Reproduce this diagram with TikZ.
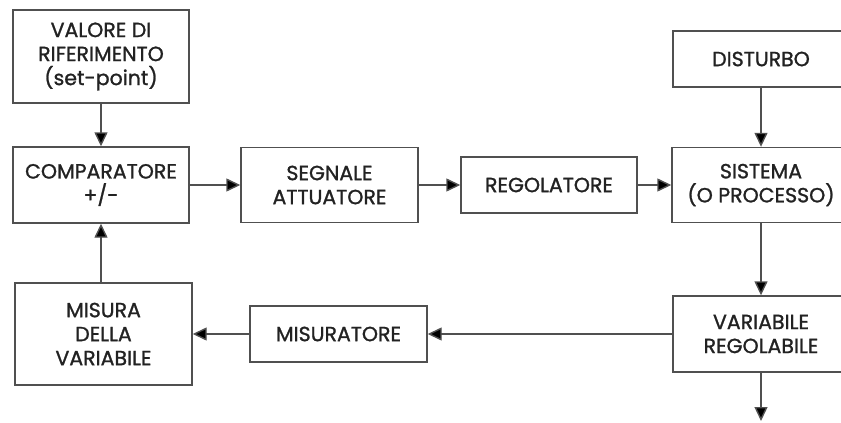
\documentclass[tikz,border=0pt]{standalone}
\usepackage{fontspec}
\setmainfont{Poppins}[FakeBold=1.2]
\usetikzlibrary{arrows.meta}
\definecolor{linec}{HTML}{505050}
\definecolor{textc}{HTML}{222222}
\tikzset{
  blk/.style={draw=linec, line width=1.4pt, fill=white, align=center, text=textc,
    font=\fontsize{20.5}{24}\selectfont, inner sep=0pt},
  conn/.style={draw=linec, line width=1.4pt, -{Triangle[length=14pt,width=13pt,fill=black]}},
}
\begin{document}
\begin{tikzpicture}[x=1pt,y=-1pt]
\useasboundingbox (0,0) rectangle (841,423);
\clip (0,0) rectangle (841,423);
\fill[white] (0,0) rectangle (841,423);
\node[blk, minimum width=176pt, minimum height=93pt] (val) at (101,56.5) {VALORE DI\\RIFERIMENTO\\(set-point)};
\node[blk, minimum width=176pt, minimum height=76pt] (comp) at (101,185) {COMPARATORE\\+/-};
\node[blk, minimum width=177pt, minimum height=75pt] (seg) at (329.5,185) {SEGNALE\\ATTUATORE};
\node[blk, minimum width=176pt, minimum height=56pt] (reg) at (549,185) {REGOLATORE};
\node[blk, minimum width=178pt, minimum height=75pt] (sis) at (761,185) {SISTEMA\\(O PROCESSO)};
\node[blk, minimum width=176pt, minimum height=56pt] (dist) at (761,59) {DISTURBO};
\node[blk, minimum width=176pt, minimum height=76pt] (var) at (761,334) {VARIABILE\\REGOLABILE};
\node[blk, minimum width=177pt, minimum height=102pt] (mis) at (103.5,334) {MISURA\\DELLA\\VARIABILE};
\node[blk, minimum width=177pt, minimum height=56pt] (misr) at (338.5,334) {MISURATORE};
\coordinate (out) at (761,421);
\draw[conn] (comp.east) -- (seg.west);
\draw[conn] (seg.east) -- (reg.west);
\draw[conn] (reg.east) -- (sis.west);
\draw[conn] (val.south) -- (comp.north);
\draw[conn] (dist.south) -- (sis.north);
\draw[conn] (sis.south) -- (var.north);
\draw[conn] (var.south) -- (out);
\draw[conn] (var.west) -- (misr.east);
\draw[conn] (misr.west) -- (mis.east);
\draw[conn] (mis.north -| comp.south) -- (comp.south);
\end{tikzpicture}
\end{document}
